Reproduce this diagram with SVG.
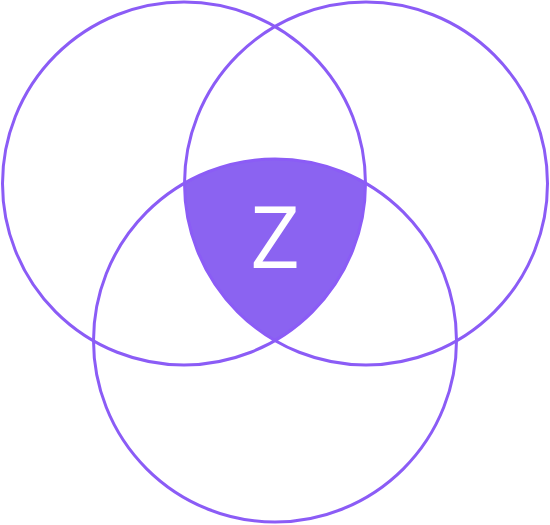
<svg xmlns="http://www.w3.org/2000/svg" width="550" height="525" viewBox="0 0 550 525">
<style>
.c{fill:none;stroke:#8B5CF6;stroke-width:3}
.f{fill:#8B63F1;stroke:none}
.t{font-family:"Open Sans","Liberation Sans",sans-serif;font-size:86px;fill:#ffffff;text-anchor:middle}
</style>
<rect width="550" height="525" fill="#ffffff"/>
<g id="intersection">
<path class="f" d="M184.5,183.5 A181.5,181.5 0 0 1 365.5,183.5 A181.5,181.5 0 0 1 275,340.5 A181.5,181.5 0 0 1 184.5,183.5 Z"/>
<text class="t" x="275" y="268">Z</text>
</g>
<g id="circle-left"><circle class="c" cx="184" cy="183.5" r="181.5"/></g>
<g id="circle-right"><circle class="c" cx="366" cy="183.5" r="181.5"/></g>
<g id="circle-bottom"><circle class="c" cx="275" cy="340.5" r="181.5"/></g>
</svg>
